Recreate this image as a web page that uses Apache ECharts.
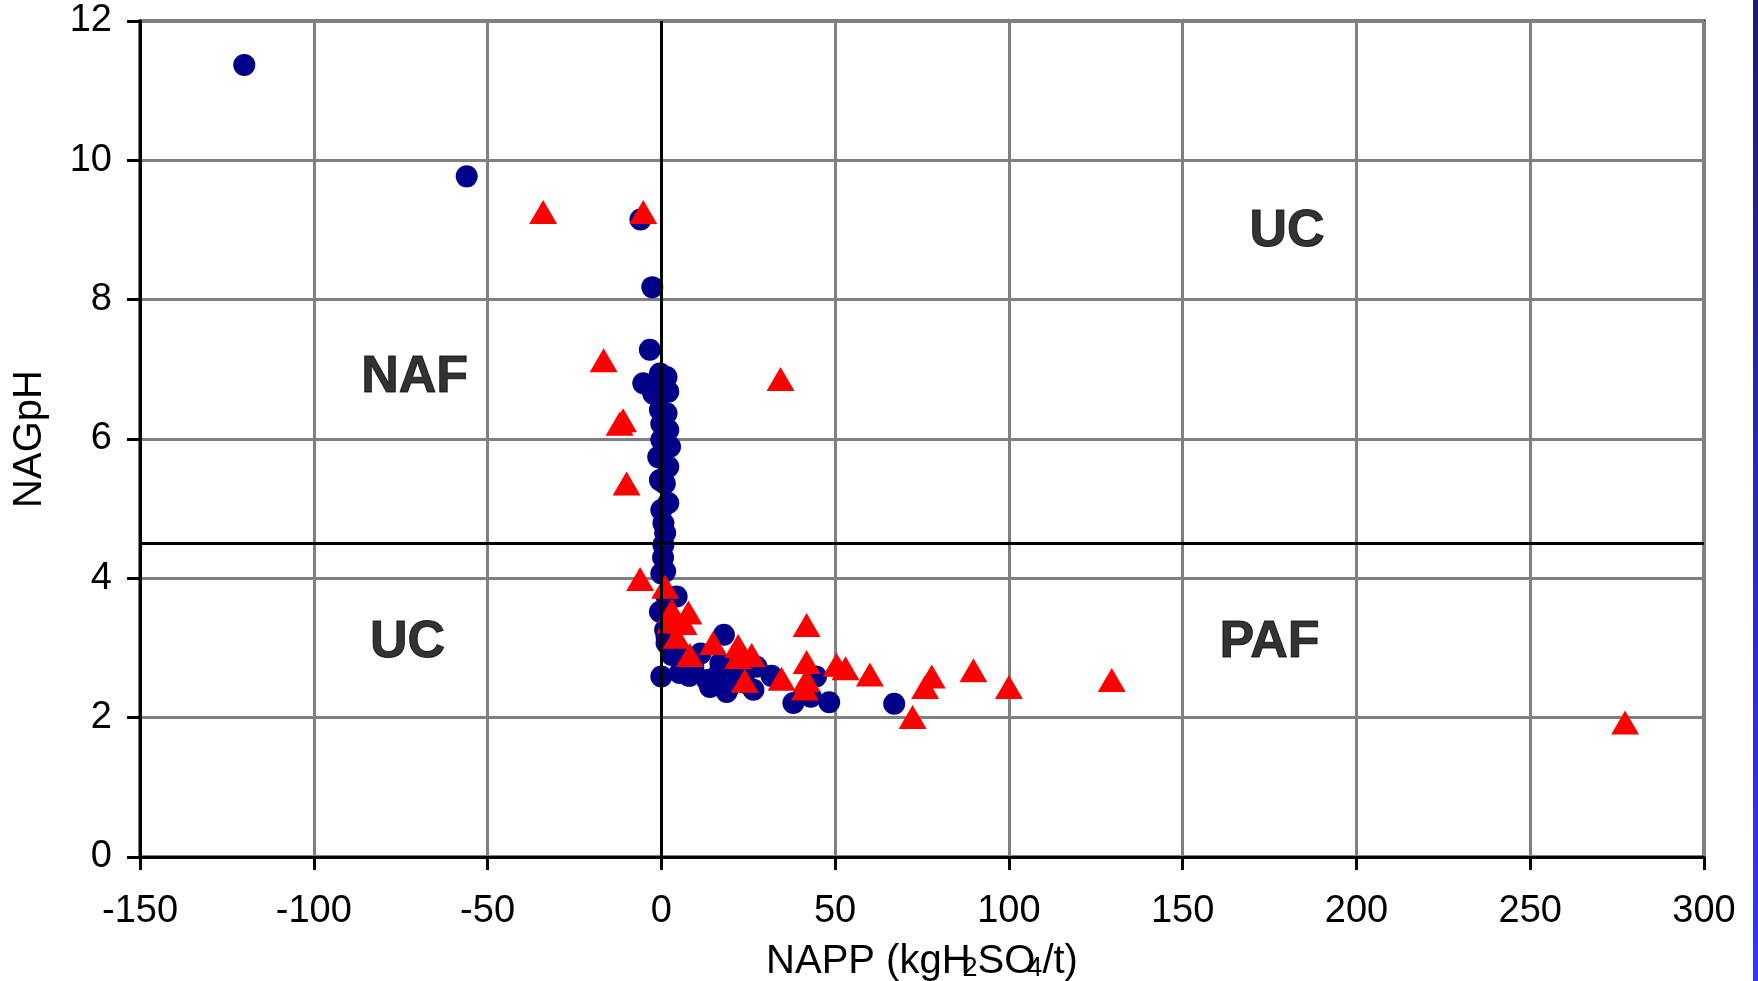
<!DOCTYPE html>
<html>
<head>
<meta charset="utf-8">
<script src="https://cdn.jsdelivr.net/npm/echarts@6/dist/echarts.min.js"></script>
<style>
html,body{margin:0;padding:0;background:#fff;}
#chart{width:1758px;height:981px;}
</style>
</head>
<body>
<div id="chart"></div>
<script>
// Axis settings / tick values
const xTicks = [-150, -100, -50, 0, 50, 100, 150, 200, 250, 300];
const yTicks = [0, 2, 4, 6, 8, 10, 12];
const xTitle = 'NAPP (kgH{sub|2}SO{sub|4}/t)';
const yTitle = 'NAGpH';

// Series 1: blue circles [NAPP, NAGpH]
const circlePoints = [
  [-120, 11.37], [-56, 9.77], [-6, 9.15], [-2.6, 8.18], [-3.3, 7.28],
  [-0.4, 6.94], [1.5, 6.89], [-5.2, 6.80], [-3.3, 6.75], [-2.3, 6.65], [2.0, 6.68],
  [-0.4, 6.42], [1.5, 6.37], [0, 6.22], [2.0, 6.13], [0, 5.99], [2.5, 5.89],
  [-0.9, 5.74], [2.0, 5.60], [-0.4, 5.41], [1.0, 5.36], [2.0, 5.08], [0, 4.98],
  [0.6, 4.79], [1.1, 4.65], [0.6, 4.48], [0.5, 4.30], [1.1, 4.10], [0, 4.07],
  [4.4, 3.74], [1.5, 3.74], [-0.4, 3.52], [1.1, 3.26], [1.5, 3.07], [1.5, 3.16],
  [18, 3.19], [0, 2.59], [5.3, 2.64], [6.4, 2.87], [9.2, 2.73], [11.3, 2.92],
  [13.1, 2.54], [14, 2.44], [17, 2.78], [18.8, 2.37], [19, 2.40], [21.8, 2.64],
  [26.5, 2.40], [27.4, 2.73], [31.7, 2.60], [38, 2.21], [43, 2.30], [44.5, 2.59],
  [48.3, 2.22], [67, 2.20], [3, 2.9], [8, 2.6], [16, 2.6], [24, 2.5]
];

// Series 2: red triangles [NAPP, NAGpH]
const trianglePoints = [
  [-34, 9.26], [-5.2, 9.26], [-16.6, 7.13], [34.3, 6.86], [-11, 6.27], [-12, 6.22],
  [-10, 5.36], [-6.1, 3.99], [1.1, 3.88], [3.0, 3.54], [7.8, 3.51], [2.6, 3.38],
  [6.4, 3.36], [4.4, 3.16], [8.2, 2.90], [14.9, 3.07], [22.1, 3.03], [26, 2.90],
  [22.1, 2.87], [24, 2.53], [34.6, 2.56], [41.8, 3.33], [41.8, 2.80], [41.8, 2.54],
  [41.3, 2.42], [50.4, 2.76], [53, 2.71], [60, 2.62], [72.3, 2.01], [75.9, 2.44],
  [77.8, 2.59], [89.8, 2.68], [100, 2.44], [129.6, 2.54], [277.3, 1.93]
];

// Classification boundaries
const boundaryX = 0;
const boundaryY = 4.5;

// Region labels [x, y, text]
const regionLabels = [
  [180, 8.98, 'UC'],
  [-71, 6.88, 'NAF'],
  [-73, 3.08, 'UC'],
  [175, 3.08, 'PAF']
];

const FONT = '"Liberation Sans", Arial, Helvetica, sans-serif';
const chart = echarts.init(document.getElementById('chart'));

const option = {
  backgroundColor: '#ffffff',
  animation: false,
  grid: {
    left: 140, right: 54, top: 21, bottom: 124,
    containLabel: false, outerBoundsMode: 'none',
    show: true, borderColor: '#000', borderWidth: 3, backgroundColor: 'transparent'
  },
  graphic: [{
    type: 'rect',
    right: 0, top: 0,
    shape: { width: 5, height: 981 },
    style: {
      fill: new echarts.graphic.LinearGradient(0, 0, 0, 1, [
        { offset: 0, color: '#1c1c70' },
        { offset: 1, color: '#3535ff' }
      ])
    }
  }],
  xAxis: {
    type: 'value', min: -150, max: 300, interval: 50,
    name: xTitle, nameLocation: 'middle', nameGap: 84,
    nameTextStyle: {
      fontFamily: FONT, fontSize: 40, color: '#000',
      rich: { sub: { fontFamily: FONT, fontSize: 27, color: '#000', verticalAlign: 'bottom', padding: [14, 0, 0, -8] } }
    },
    axisLine: { show: true, onZero: false, lineStyle: { color: '#000', width: 3 } },
    axisTick: { show: true, length: 13, inside: false, lineStyle: { color: '#000', width: 3 } },
    axisLabel: { fontFamily: FONT, fontSize: 38, color: '#000', margin: 36,
      formatter: v => xTicks.includes(v) ? String(v) : '' },
    splitLine: { show: true, lineStyle: { color: '#808080', width: 3 } }
  },
  yAxis: {
    type: 'value', min: 0, max: 12, interval: 2,
    name: yTitle, nameLocation: 'middle', nameGap: 90, nameRotate: 90,
    nameTextStyle: { fontFamily: FONT, fontSize: 40, color: '#000' },
    axisLine: { show: true, onZero: false, lineStyle: { color: '#000', width: 3 } },
    axisTick: { show: true, length: 13, inside: false, lineStyle: { color: '#000', width: 3 } },
    axisLabel: { fontFamily: FONT, fontSize: 38, color: '#000', margin: 28,
      formatter: v => yTicks.includes(v) ? String(v) : '' },
    splitLine: { show: true, lineStyle: { color: '#808080', width: 3 } }
  },
  series: [
    {
      name: 'boundaries', type: 'scatter', data: [], silent: true,
      markLine: {
        silent: true, symbol: ['none', 'none'], animation: false,
        label: { show: false },
        lineStyle: { color: '#000', width: 3, type: 'solid' },
        data: [{ xAxis: boundaryX }, { yAxis: boundaryY }]
      },
      z: 2
    },
    {
      name: 'circles', type: 'scatter', symbol: 'circle', symbolSize: 22,
      itemStyle: { color: '#000088', opacity: 1 },
      data: circlePoints, z: 3
    },
    {
      name: 'triangles', type: 'scatter', symbol: 'triangle', symbolSize: [28, 24],
      itemStyle: { color: '#ff0000', opacity: 1 },
      data: trianglePoints, z: 4
    },
    {
      name: 'regions', type: 'scatter', symbolSize: 1, silent: true,
      itemStyle: { color: 'rgba(0,0,0,0)' },
      data: regionLabels.map(r => ({ value: [r[0], r[1]], name: r[2] })),
      label: { show: true, position: 'inside', formatter: p => p.name,
        fontFamily: FONT, fontSize: 52, fontWeight: 'bold', color: '#000000',
        textBorderColor: '#000000', textBorderWidth: 1 },
      labelLayout: { hideOverlap: false },
      z: 5
    }
  ]
};
chart.setOption(option);
</script>
</body>
</html>
